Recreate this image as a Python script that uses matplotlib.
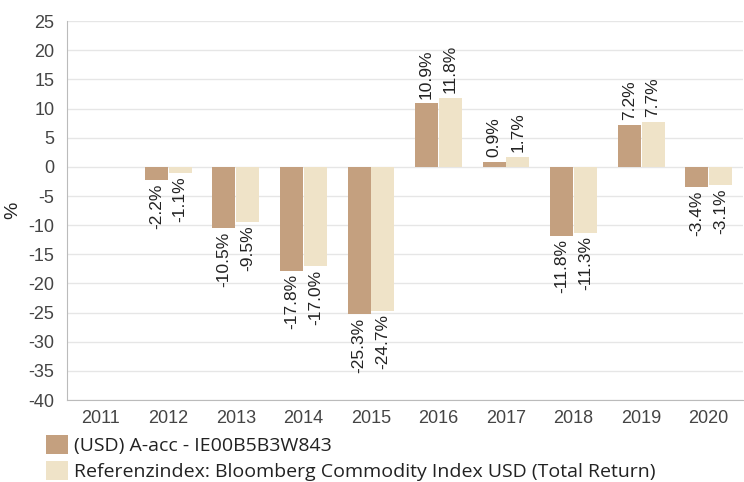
import numpy as np
import matplotlib
matplotlib.use("Agg")
import matplotlib.pyplot as plt
from matplotlib.patches import Patch

years = ["2011", "2012", "2013", "2014", "2015", "2016", "2017", "2018", "2019", "2020"]
fund = [np.nan, -2.2, -10.5, -17.8, -25.3, 10.9, 0.9, -11.8, 7.2, -3.4]
index = [np.nan, -1.1, -9.5, -17.0, -24.7, 11.8, 1.7, -11.3, 7.7, -3.1]
fund_name = "(USD) A-acc - IE00B5B3W843"
index_name = "Referenzindex: Bloomberg Commodity Index USD (Total Return)"

fund_color = "#c4a07f"
index_color = "#efe3c8"

plt.rcParams['font.family'] = ['Liberation Sans', 'DejaVu Sans']
plt.rcParams['axes.unicode_minus'] = False

fig = plt.figure(figsize=(7.44, 4.82), dpi=100)
ax = fig.add_axes([0.090, 0.170, 0.908, 0.786])

x = np.arange(len(years))
w = 0.34
gap = 0.006
for vals, off, col in [(fund, -w / 2 - gap, fund_color), (index, w / 2 + gap, index_color)]:
    for xi, v in zip(x, vals):
        if np.isnan(v):
            continue
        ax.bar(xi + off, v, width=w, color=col, zorder=3)
        if v >= 0:
            ax.annotate(f"{v:.1f}%", (xi + off, v), xytext=(0, 3.5), textcoords="offset points",
                        rotation=90, ha="center", va="bottom", fontsize=12.5, color="#222222")
        else:
            ax.annotate(f"{v:.1f}%", (xi + off, v), xytext=(0, -2.5), textcoords="offset points",
                        rotation=90, ha="center", va="top", fontsize=12.5, color="#222222")

ax.set_xlim(-0.5, len(years) - 0.5)
ax.set_ylim(-40, 25)
ax.set_yticks(np.arange(-40, 26, 5))
ax.set_xticks(x)
ax.set_xticklabels(years)
ax.tick_params(axis="both", length=0, labelsize=13, colors="#444444")
ax.tick_params(axis="y", pad=9)
ax.tick_params(axis="x", pad=7)
ax.grid(axis="y", color="#e6e6e6", linewidth=1, zorder=0)
for s in ["top", "right"]:
    ax.spines[s].set_visible(False)
for s in ["left", "bottom"]:
    ax.spines[s].set_color("#bbbbbb")
ax.set_ylabel("%", fontsize=14, color="#222222")
ax.yaxis.set_label_coords(-0.068, 0.50)

handles = [Patch(facecolor=fund_color, label=fund_name),
           Patch(facecolor=index_color, label=index_name)]
fig.legend(handles=handles, loc="upper left", bbox_to_anchor=(0.062, 0.097), frameon=False,
           prop={"family": ["Open Sans", "DejaVu Sans"], "size": 14},
           handlelength=1.1, handleheight=1.1, handletextpad=0.35, labelspacing=0.3,
           borderaxespad=0, borderpad=0, labelcolor="#222222")

fig.savefig("out.png", dpi=100)
